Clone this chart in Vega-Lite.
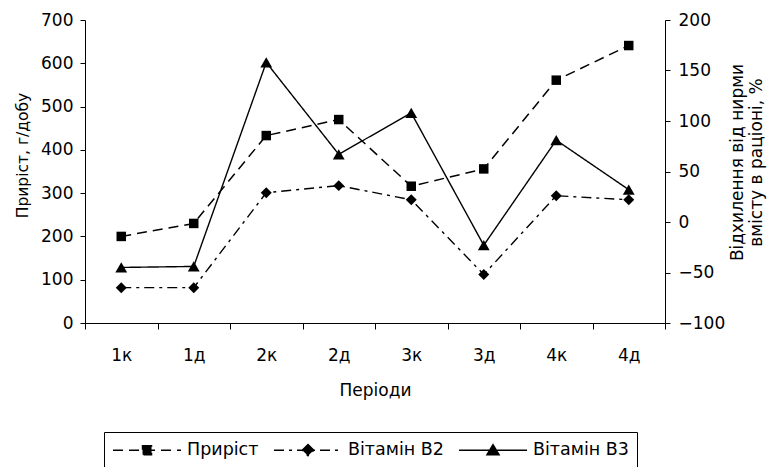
{
  "$schema": "https://vega.github.io/schema/vega-lite/v6.json",
  "width": 580,
  "height": 303,
  "autosize": {"type": "none"},
  "padding": {"left": 85, "right": 110, "top": 20, "bottom": 144},
  "background": "white",
  "config": {
    "view": {"stroke": null},
    "font": "DejaVu Sans",
    "axis": {
      "domainColor": "black", "domainWidth": 1, "tickColor": "black", "tickWidth": 1,
      "labelColor": "black", "labelFont": "DejaVu Sans", "labelFontSize": 17,
      "titleColor": "black", "titleFont": "DejaVu Sans", "titleFontSize": 17, "titleFontWeight": "normal",
      "grid": false
    },
    "legend": {"labelFont": "DejaVu Sans", "labelFontSize": 17, "labelColor": "black"}
  },
  "data": {
    "values": [
      {"period": "1к", "series": "Приріст", "value": 200},
      {"period": "1д", "series": "Приріст", "value": 230},
      {"period": "2к", "series": "Приріст", "value": 433},
      {"period": "2д", "series": "Приріст", "value": 470},
      {"period": "3к", "series": "Приріст", "value": 316},
      {"period": "3д", "series": "Приріст", "value": 356},
      {"period": "4к", "series": "Приріст", "value": 561},
      {"period": "4д", "series": "Приріст", "value": 641},
      {"period": "1к", "series": "Вітамін В2", "value": -65},
      {"period": "1д", "series": "Вітамін В2", "value": -65},
      {"period": "2к", "series": "Вітамін В2", "value": 29},
      {"period": "2д", "series": "Вітамін В2", "value": 36},
      {"period": "3к", "series": "Вітамін В2", "value": 22},
      {"period": "3д", "series": "Вітамін В2", "value": -52},
      {"period": "4к", "series": "Вітамін В2", "value": 26},
      {"period": "4д", "series": "Вітамін В2", "value": 22},
      {"period": "1к", "series": "Вітамін В3", "value": -45},
      {"period": "1д", "series": "Вітамін В3", "value": -44},
      {"period": "2к", "series": "Вітамін В3", "value": 158},
      {"period": "2д", "series": "Вітамін В3", "value": 67},
      {"period": "3к", "series": "Вітамін В3", "value": 108},
      {"period": "3д", "series": "Вітамін В3", "value": -23},
      {"period": "4к", "series": "Вітамін В3", "value": 81},
      {"period": "4д", "series": "Вітамін В3", "value": 32}
    ]
  },
  "encoding": {
    "x": {
      "field": "period", "type": "ordinal",
      "sort": ["1к", "1д", "2к", "2д", "3к", "3д", "4к", "4д"],
      "scale": {"type": "band", "paddingInner": 0, "paddingOuter": 0},
      "axis": {
        "title": "Періоди", "labelAngle": 0, "tickBand": "extent", "tickSize": 6,
        "labelPadding": 18, "titlePadding": 19
      }
    }
  },
  "layer": [
    {
      "mark": {"type": "point", "filled": true, "fill": "black", "stroke": "black", "strokeWidth": 1.5, "opacity": 0},
      "encoding": {
        "shape": {
          "field": "series", "type": "nominal",
          "scale": {"domain": ["Приріст", "Вітамін В2", "Вітамін В3"],
            "range": ["M-1,0H6.56M2.28,-0.5H3.28V0.5H2.28Z", "M-1,0H6.56M2.78,-0.62L3.42,0L2.78,0.62L2.14,0Z", "M-1,0H6.56M2.78,-0.62L3.45,0.5H2.11Z"]},
          "legend": {
            "title": null, "orient": "none", "direction": "horizontal", "legendX": 19, "legendY": 412,
            "strokeColor": "black", "fillColor": "white", "padding": 8,
            "symbolSize": 324, "labelOffset": 55, "columnPadding": 12, "labelLimit": 300,
            "labelFontSize": 17.5, "symbolOpacity": 1
          }
        },
        "strokeDash": {
          "field": "series", "type": "nominal",
          "scale": {"domain": ["Приріст", "Вітамін В2", "Вітамін В3"], "range": [[10, 6], [10, 5, 3, 5], [1, 0]]}
        }
      }
    },
    {
      "transform": [{"filter": "datum.series === 'Приріст'"}],
      "encoding": {
        "y": {
          "field": "value", "type": "quantitative",
          "scale": {"domain": [0, 700], "nice": false, "zero": false},
          "axis": {
            "orient": "left", "title": "Приріст, г/добу", "values": [0, 100, 200, 300, 400, 500, 600, 700],
            "tickSize": 5, "labelPadding": 7,
            "titleFont": "DejaVu Sans", "titleFontSize": 15.5,
            "titleAngle": 270, "titleX": -63, "titleY": 135, "titleAlign": "center", "titleBaseline": "middle"
          }
        }
      },
      "layer": [
        {
          "mark": {"type": "line", "color": "black", "strokeWidth": 1.5},
          "encoding": {
            "strokeDash": {
              "field": "series", "type": "nominal",
              "scale": {"domain": ["Приріст", "Вітамін В2", "Вітамін В3"], "range": [[10, 6], [10, 5, 3, 5], [1, 0]]}
            }
          }
        },
        {
          "mark": {"type": "point", "shape": "square", "filled": true, "color": "black", "opacity": 1, "size": 90}
        }
      ]
    },
    {
      "transform": [{"filter": "datum.series !== 'Приріст'"}],
      "encoding": {
        "y": {
          "field": "value", "type": "quantitative",
          "scale": {"domain": [-100, 200], "nice": false, "zero": false},
          "axis": {
            "orient": "right", "title": ["Відхилення від нирми", "вмісту в раціоні, %"],
            "values": [-100, -50, 0, 50, 100, 150, 200],
            "tickSize": 5, "labelPadding": 8,
            "titleAngle": 270, "titleX": 72, "titleY": 142, "titleAlign": "center", "titleBaseline": "middle", "titleLineHeight": 19
          }
        }
      },
      "layer": [
        {
          "mark": {"type": "line", "color": "black", "strokeWidth": 1.4},
          "encoding": {
            "strokeDash": {
              "field": "series", "type": "nominal",
              "scale": {"domain": ["Приріст", "Вітамін В2", "Вітамін В3"], "range": [[10, 6], [10, 5, 3, 5], [1, 0]]}
            }
          }
        },
        {
          "transform": [{"filter": "datum.series === 'Вітамін В2'"}],
          "mark": {"type": "point", "shape": "diamond", "filled": true, "color": "black", "opacity": 1, "size": 120}
        },
        {
          "transform": [{"filter": "datum.series === 'Вітамін В3'"}],
          "mark": {"type": "point", "shape": "triangle-up", "filled": true, "color": "black", "opacity": 1, "size": 140}
        }
      ]
    }
  ],
  "resolve": {"scale": {"y": "independent"}}
}
